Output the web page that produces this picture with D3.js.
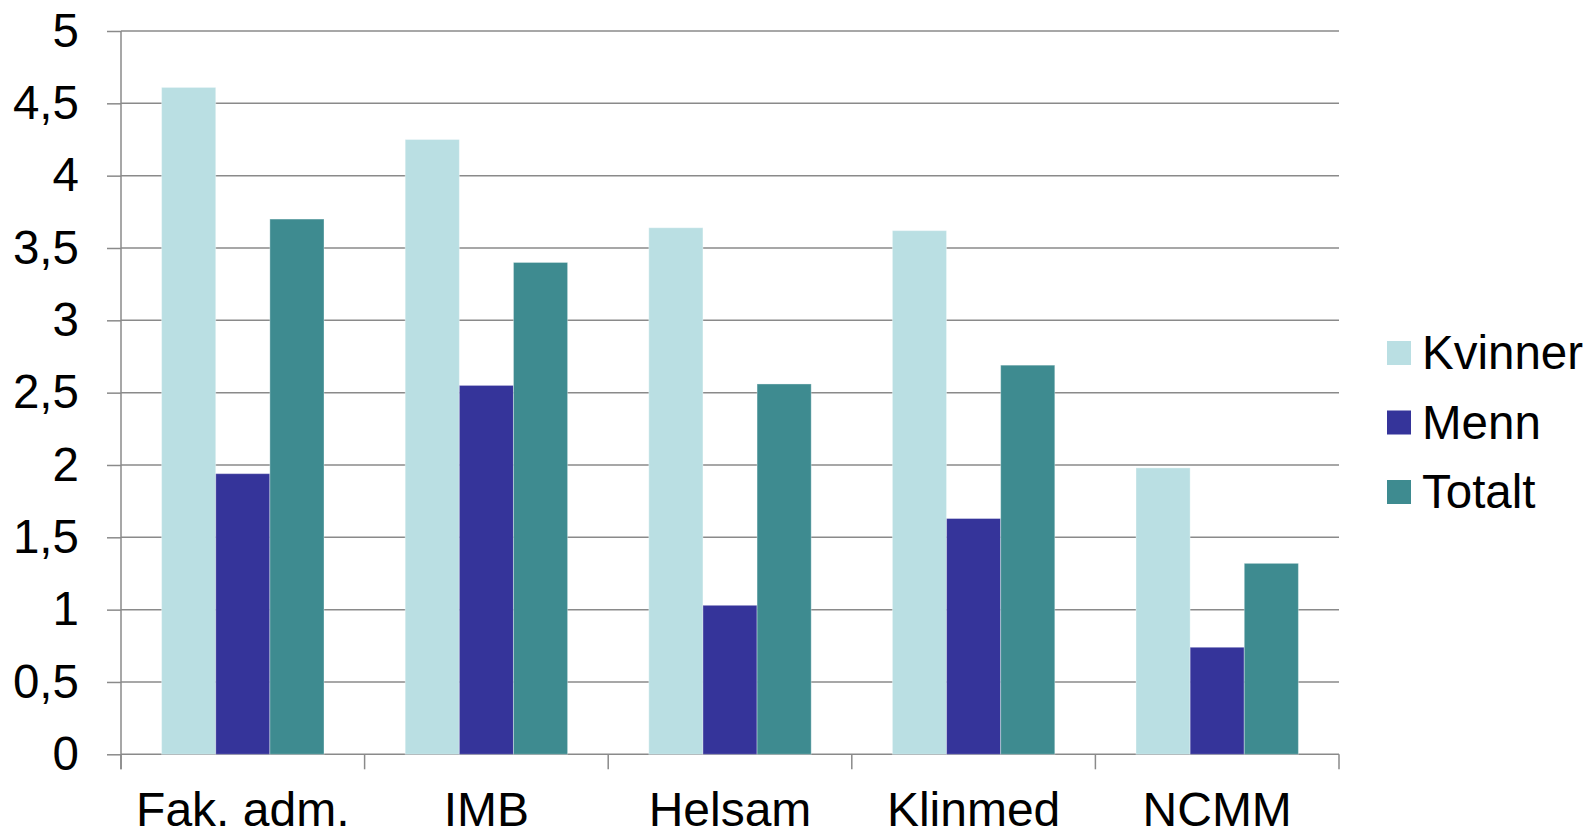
<!DOCTYPE html>
<html>
<head>
<meta charset="utf-8">
<script src="https://cdn.jsdelivr.net/npm/d3@7"></script>
<style>
  html, body { margin: 0; padding: 0; background: #ffffff; }
  svg { display: block; }
  text { font-family: "Liberation Sans", Arial, sans-serif; fill: #000; }
</style>
</head>
<body>
<svg id="chart" width="1589" height="835"></svg>
<script>
// Units and series
const categories = ["Fak. adm.", "IMB", "Helsam", "Klinmed", "NCMM"];
const seriesNames = ["Kvinner", "Menn", "Totalt"];
const kvinner = [4.61, 4.25, 3.64, 3.62, 1.98];
const menn    = [1.94, 2.55, 1.03, 1.63, 0.74];
const totalt  = [3.70, 3.40, 2.56, 2.69, 1.32];
const seriesColors = ["#badfe3", "#35349a", "#3e8b90"];
const yTicks = [0, 0.5, 1, 1.5, 2, 2.5, 3, 3.5, 4, 4.5, 5];
const yTickLabels = ["0", "0,5", "1", "1,5", "2", "2,5", "3", "3,5", "4", "4,5", "5"];

const seriesValues = [kvinner, menn, totalt];
const rows = categories.map((c, i) => ({
  category: c,
  values: seriesNames.map((s, j) => ({ series: s, value: seriesValues[j][i], color: seriesColors[j] }))
}));

const svg = d3.select("#chart");
const margin = { top: 31, left: 121 };
const plotW = 1218, plotH = 723.3;
const g = svg.append("g").attr("transform", `translate(${margin.left},${margin.top})`);

const x0 = d3.scaleBand().domain(categories).range([0, plotW]).padding(0);
const bw = x0.bandwidth();
const x1 = d3.scaleBand().domain(seriesNames).range([bw / 6, bw * 5 / 6]).padding(0);
const y = d3.scaleLinear().domain([0, 5]).range([plotH, 0]);

const gridColor = "#8a8a8a";

// Horizontal gridlines
g.append("g").selectAll("line").data(yTicks).join("line")
  .attr("x1", 0).attr("x2", plotW)
  .attr("y1", d => y(d)).attr("y2", d => y(d))
  .attr("stroke", gridColor).attr("stroke-width", 1.5);

// Bars
const groups = g.append("g").selectAll("g").data(rows).join("g")
  .attr("transform", d => `translate(${x0(d.category)},0)`);
groups.selectAll("rect").data(d => d.values).join("rect")
  .attr("x", d => x1(d.series))
  .attr("width", x1.bandwidth())
  .attr("y", d => y(d.value))
  .attr("height", d => plotH - y(d.value))
  .attr("fill", d => d.color)
  .attr("stroke", "rgba(255,255,255,0.35)")
  .attr("stroke-width", 1);

// Y axis
const yAxis = g.append("g")
  .call(d3.axisLeft(y).tickValues(yTicks).tickSize(14).tickPadding(28)
    .tickFormat((d, i) => yTickLabels[i]));
yAxis.select(".domain").remove();
yAxis.selectAll(".tick line").attr("stroke", gridColor).attr("stroke-width", 1.5);
yAxis.selectAll(".tick text")
  .style("font-family", '"Liberation Sans", Arial, sans-serif')
  .style("font-size", "47.5px").attr("fill", "#000");
g.append("line")
  .attr("x1", 0).attr("x2", 0).attr("y1", 0).attr("y2", plotH + 15)
  .attr("stroke", gridColor).attr("stroke-width", 1.5);

// X axis: tick marks at category boundaries, labels centred
const boundaries = categories.map(c => x0(c)).concat([plotW]);
g.append("g").selectAll("line").data(boundaries).join("line")
  .attr("x1", d => d).attr("x2", d => d)
  .attr("y1", plotH).attr("y2", plotH + 15)
  .attr("stroke", gridColor).attr("stroke-width", 1.5);
g.append("g").selectAll("text").data(categories).join("text")
  .attr("x", d => x0(d) + bw / 2)
  .attr("y", plotH + 72)
  .attr("text-anchor", "middle")
  .style("font-size", "48px")
  .text(d => d);

// Legend
const legend = svg.append("g").attr("transform", "translate(1387,341)");
const li = legend.selectAll("g").data(seriesNames).join("g")
  .attr("transform", (d, i) => `translate(0,${i * 69.5})`);
li.append("rect").attr("width", 24).attr("height", 24)
  .attr("fill", (d, i) => seriesColors[i]);
li.append("text").attr("x", 35).attr("y", 11).attr("dy", "0.36em")
  .style("font-size", "47.5px").text(d => d);
</script>
</body>
</html>
